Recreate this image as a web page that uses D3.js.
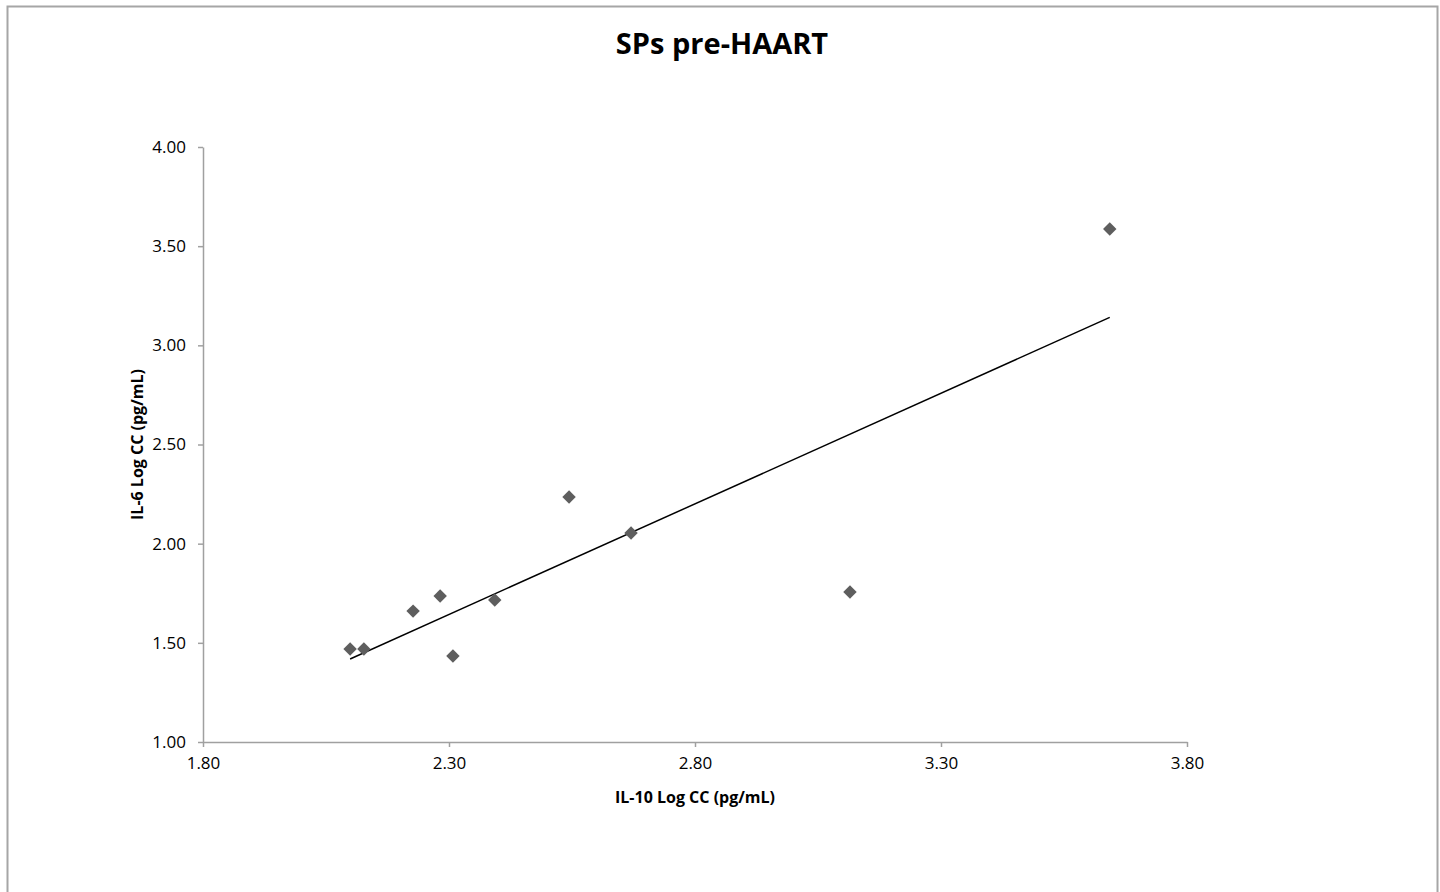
<!DOCTYPE html>
<html>
<head>
<meta charset="utf-8">
<script src="https://cdn.jsdelivr.net/npm/d3@7"></script>
<style>
  body { margin: 0; background: #fff; }
  text { font-family: "Open Sans", "Noto Sans", sans-serif; fill: #000; }
</style>
</head>
<body>
<div id="vis"></div>
<script>
const width = 1440;
const height = 892;

// IL-10 (x) vs IL-6 (y), log concentrations
const il10 = [2.099, 2.127, 2.227, 2.282, 2.308, 2.393, 2.544, 2.670, 3.115, 3.643];
const il6  = [1.469, 1.469, 1.660, 1.736, 1.434, 1.716, 2.235, 2.054, 1.756, 3.587];
const xTicks = [1.80, 2.30, 2.80, 3.30, 3.80];
const yTicks = [1.00, 1.50, 2.00, 2.50, 3.00, 3.50, 4.00];

const margin = { left: 203, right: 253, top: 147, bottom: 150 };

window.onload = function () {
  svg = d3.select("#vis").append("svg")
    .attr("width", width)
    .attr("height", height);

  // chart area border
  svg.append("rect")
    .attr("x", 7.5).attr("y", 6.5)
    .attr("width", 1430).attr("height", 900)
    .attr("fill", "none")
    .attr("stroke", "#a6a6a6")
    .attr("stroke-width", 2);

  drawChart();
};

function drawChart() {
  let x = d3.scaleLinear().domain([1.8, 3.8]).range([margin.left, width - margin.right]);
  let y = d3.scaleLinear().domain([1.0, 4.0]).range([height - margin.bottom, margin.top]);

  let xAxis = svg.append("g")
    .attr("transform", "translate(0," + y(1.0) + ")")
    .call(d3.axisBottom(x).tickValues(xTicks).tickFormat(d3.format(".2f")).tickSizeInner(5).tickSizeOuter(0).tickPadding(10));

  let yAxis = svg.append("g")
    .attr("transform", "translate(" + x(1.8) + ",0)")
    .call(d3.axisLeft(y).tickValues(yTicks).tickFormat(d3.format(".2f")).tickSizeInner(5).tickSizeOuter(0).tickPadding(12));

  [xAxis, yAxis].forEach(function (g) {
    g.select(".domain").attr("stroke", "#a0a0a0").attr("stroke-width", 1.5);
    g.selectAll(".tick line").attr("stroke", "#a0a0a0").attr("stroke-width", 1.5);
    g.selectAll(".tick text").style("font-size", "17px").style("font-family", '"Open Sans", sans-serif').attr("fill", "#000");
  });

  // linear trendline (least squares)
  let mx = d3.mean(il10), my = d3.mean(il6);
  let sxy = d3.sum(il10, (v, i) => (v - mx) * (il6[i] - my));
  let sxx = d3.sum(il10, v => (v - mx) * (v - mx));
  let slope = sxy / sxx;
  let icpt = my - slope * mx;
  let x0 = d3.min(il10), x1 = d3.max(il10);

  svg.append("line")
    .attr("x1", x(x0)).attr("y1", y(icpt + slope * x0))
    .attr("x2", x(x1)).attr("y2", y(icpt + slope * x1))
    .attr("stroke", "#000")
    .attr("stroke-width", 1.5);

  let diamond = d3.symbol().type(d3.symbolDiamond2).size(115);
  svg.selectAll(".pt").data(il10).enter().append("path")
    .attr("class", "pt")
    .attr("d", diamond)
    .attr("transform", (d, i) => "translate(" + x(d) + "," + y(il6[i]) + ")")
    .attr("fill", "#5e5e5e");

  svg.append("text")
    .attr("x", 722).attr("y", 54)
    .attr("text-anchor", "middle")
    .style("font-size", "29px").style("font-weight", "bold")
    .text("SPs pre-HAART");

  svg.append("text")
    .attr("x", (x(1.8) + x(3.8)) / 2).attr("y", 803)
    .attr("text-anchor", "middle")
    .style("font-size", "16px").style("font-weight", "bold")
    .text("IL-10 Log CC (pg/mL)");

  svg.append("text")
    .attr("transform", "translate(143," + ((y(1) + y(4)) / 2) + ") rotate(-90)")
    .attr("text-anchor", "middle")
    .style("font-size", "16px").style("font-weight", "bold")
    .text("IL-6 Log CC (pg/mL)");
}
</script>
</body>
</html>
